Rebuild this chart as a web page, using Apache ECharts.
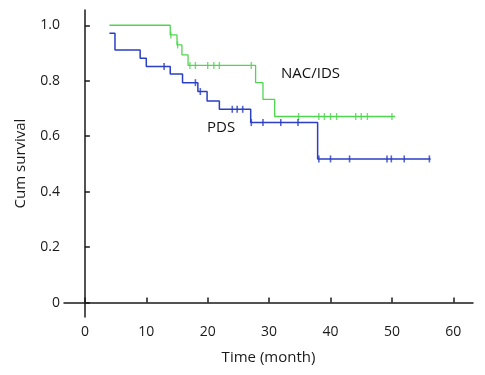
<!DOCTYPE html>
<html>
<head>
<meta charset="utf-8">
<script src="https://cdn.jsdelivr.net/npm/echarts@6/dist/echarts.min.js"></script>
<style>
    html, body { margin: 0; padding: 0; background: #fff; }
    #chart { width: 485px; height: 375px; }
</style>
</head>
<body>
<div id="chart"></div>
<script>
// NAC/IDS curve (steps) and censored times
var nacTimes = [4.0, 13.9, 15.0, 15.8, 16.8, 27.8, 29.0, 30.9, 50.5];
var nacSurv = [1.0, 0.965, 0.929, 0.893, 0.855, 0.793, 0.733, 0.671, 0.671];
var nacCensorTimes = [14.0, 15.1, 17.1, 18.0, 20.0, 21.0, 21.9, 27.1, 34.8, 38.1, 39.0, 40.0, 41.0, 44.1, 45.0, 46.0, 50.0];
var nacCensorSurv = [0.965, 0.929, 0.855, 0.855, 0.855, 0.855, 0.855, 0.855, 0.671, 0.671, 0.671, 0.671, 0.671, 0.671, 0.671, 0.671, 0.671];

// PDS curve (steps) and censored times
var pdsTimes = [4.0, 4.9, 9.0, 10.0, 13.9, 15.9, 18.4, 19.9, 21.9, 27.0, 37.9, 56.3];
var pdsSurv = [0.971, 0.911, 0.881, 0.851, 0.824, 0.793, 0.761, 0.727, 0.697, 0.649, 0.518, 0.518];
var pdsCensorTimes = [12.9, 18.0, 18.8, 24.0, 24.8, 25.7, 27.1, 29.0, 31.9, 34.7, 38.1, 40.0, 43.1, 49.2, 49.9, 52.0, 56.1];
var pdsCensorSurv = [0.851, 0.793, 0.761, 0.697, 0.697, 0.697, 0.649, 0.649, 0.649, 0.649, 0.518, 0.518, 0.518, 0.518, 0.518, 0.518, 0.518];

var xTicks = [0, 10, 20, 30, 40, 50, 60];
var yTicks = [0, 0.2, 0.4, 0.6, 0.8, 1.0];

var green = '#4fd64f';
var blue = '#2b3fc4';

function pairs(xs, ys) {
    return xs.map(function (x, i) { return [x, ys[i]]; });
}

var chart = echarts.init(document.getElementById('chart'));
var axisColor = '#1a1a1a';
var font = 'Open Sans';

var option = {
    animation: false,
    grid: { left: 64, right: 12, top: 10, bottom: 58 },
    xAxis: {
        type: 'value',
        min: -3.4,
        max: 63.2,
        name: 'Time (month)',
        nameLocation: 'middle',
        nameGap: 33,
        nameTextStyle: { color: axisColor, fontSize: 15, fontFamily: font },
        splitLine: { show: false },
        axisLine: { lineStyle: { color: axisColor, width: 1.5 } },
        axisTick: { inside: true, length: 5, customValues: xTicks, lineStyle: { color: axisColor, width: 1.5 } },
        axisLabel: { customValues: xTicks, color: axisColor, fontSize: 14, fontFamily: font, margin: 8 }
    },
    yAxis: {
        type: 'value',
        min: -0.052,
        max: 1.055,
        name: 'Cum survival',
        nameLocation: 'middle',
        nameGap: 36,
        nameTextStyle: { color: axisColor, fontSize: 15, fontFamily: font },
        splitLine: { show: false },
        axisLine: { show: true, lineStyle: { color: axisColor, width: 1.5 } },
        axisTick: { show: true, inside: true, length: 5, customValues: yTicks, lineStyle: { color: axisColor, width: 1.5 } },
        axisLabel: {
            customValues: yTicks, color: axisColor, fontSize: 14, fontFamily: font, margin: 4,
            formatter: function (v) { return v === 0 ? '0' : v.toFixed(1); }
        }
    },
    series: [
        {
            name: 'NAC/IDS', type: 'line', step: 'end', showSymbol: false,
            lineStyle: { color: green, width: 1.3 },
            data: pairs(nacTimes, nacSurv)
        },
        {
            name: 'PDS', type: 'line', step: 'end', showSymbol: false,
            lineStyle: { color: blue, width: 1.5 },
            data: pairs(pdsTimes, pdsSurv)
        },
        {
            type: 'scatter', symbol: 'rect', symbolSize: [1.4, 7],
            itemStyle: { color: green },
            data: pairs(nacCensorTimes, nacCensorSurv)
        },
        {
            type: 'scatter', symbol: 'rect', symbolSize: [1.6, 7],
            itemStyle: { color: blue },
            data: pairs(pdsCensorTimes, pdsCensorSurv)
        }
    ],
    graphic: [
        { type: 'text', left: 281, top: 66, style: { text: 'NAC/IDS', fill: '#111', fontSize: 15, fontFamily: font } },
        { type: 'text', left: 207, top: 120, style: { text: 'PDS', fill: '#111', fontSize: 15, fontFamily: font } }
    ]
};

chart.setOption(option);
window.addEventListener('resize', function () {
    chart.resize();
});
</script>
</body>
</html>
